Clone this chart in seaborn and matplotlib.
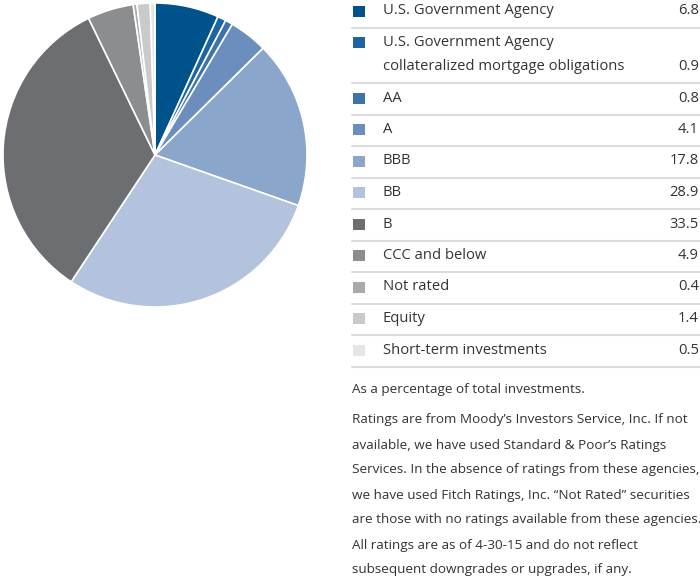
import matplotlib
matplotlib.use('Agg')
import matplotlib.pyplot as plt
from matplotlib.patches import Rectangle
import seaborn as sns

# data (percent of total investments)
labels = ['U.S. Government Agency',
          'U.S. Government Agency\ncollateralized mortgage obligations',
          'AA', 'A', 'BBB', 'BB', 'B', 'CCC and below', 'Not rated',
          'Equity', 'Short-term investments']
values = [6.8, 0.9, 0.8, 4.1, 17.8, 28.9, 33.5, 4.9, 0.4, 1.4, 0.5]
colors = ['#00528a', '#1c65a2', '#3e72ad', '#6b8ebe', '#8ba6cb', '#b3c3de',
          '#6d6e71', '#8b8d8f', '#a8aaac', '#c9cacc', '#e4e5e6']
note = 'As a percentage of total investments.'
para = ["Ratings are from Moody\u2019s Investors Service, Inc. If not",
        "available, we have used Standard & Poor\u2019s Ratings",
        "Services. In the absence of ratings from these agencies,",
        "we have used Fitch Ratings, Inc. \u201cNot Rated\u201d securities",
        "are those with no ratings available from these agencies.",
        "All ratings are as of 4-30-15 and do not reflect",
        "subsequent downgrades or upgrades, if any."]

sns.set_theme(style='white')
plt.rcParams['font.family'] = ['Open Sans', 'DejaVu Sans']
txt = '#333333'
lsize, psize = 10.6, 9.7

W, H = 700, 578
fig = plt.figure(figsize=(W / 100, H / 100), dpi=100)

# pie
cx, cy, r = 155, 155, 152
ax = fig.add_axes([(cx - r) / W, 1 - (cy + r) / H, 2 * r / W, 2 * r / H])
ax.pie(values, colors=colors, startangle=90, counterclock=False,
       wedgeprops=dict(edgecolor='white', linewidth=1.2))
ax.set_xlim(-1, 1)
ax.set_ylim(-1, 1)
ax.set_aspect('equal')

# legend table drawn in pixel coordinates
lg = fig.add_axes([0, 0, 1, 1])
lg.set_xlim(0, W)
lg.set_ylim(H, 0)
lg.axis('off')

row_h, line_h = 31.5, 24
top = -4.5
for lab, val, col in zip(labels, values, colors):
    parts = lab.split('\n')
    yc = top + 15.5
    lg.add_patch(Rectangle((353, yc - 5.5), 12, 11, color=col, lw=0))
    for k, p in enumerate(parts):
        lg.text(383, yc + line_h * k, p, fontsize=lsize, color=txt, va='center')
    lg.text(699, yc + line_h * (len(parts) - 1), f'{val:.1f}', fontsize=lsize,
            color=txt, va='center', ha='right')
    top += row_h + line_h * (len(parts) - 1)
    lg.plot([352, 700], [top + 0.5, top + 0.5], color='#dcdcdc', lw=1.5)

lg.text(352, 390, note, fontsize=psize, color=txt, va='center')
for i, line in enumerate(para):
    lg.text(352, 420 + 25 * i, line, fontsize=psize, color=txt, va='center')

fig.savefig('out.png', dpi=100, facecolor='white')
